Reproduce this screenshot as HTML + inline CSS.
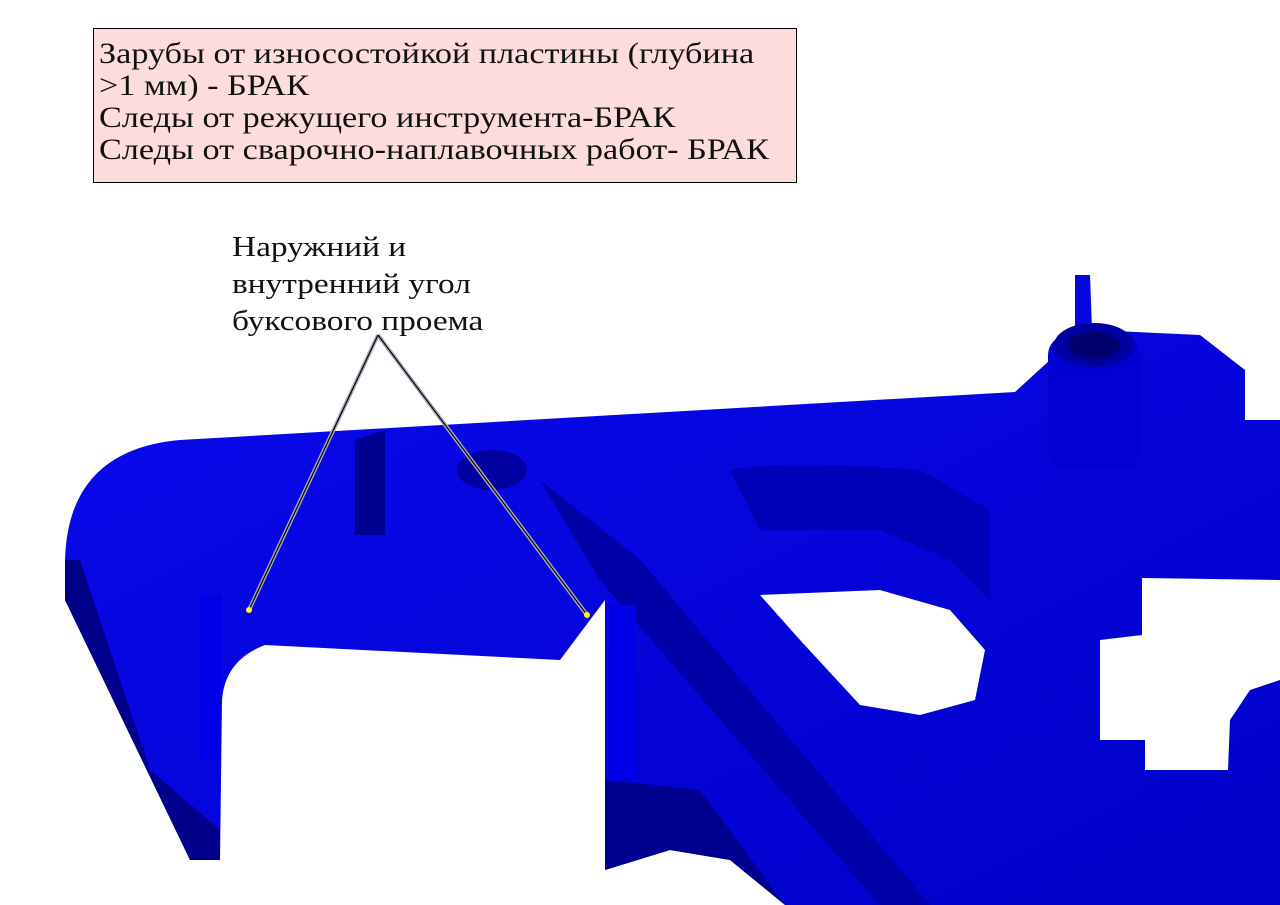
<!DOCTYPE html><html><head><meta charset="utf-8"><style>
body{margin:0;width:1280px;height:905px;background:#fff;overflow:hidden;position:relative;font-family:"Liberation Serif",serif}
.box{position:absolute;left:93px;top:28px;width:704px;height:155px;background:#fddcdc;border:1.5px solid #000;box-sizing:border-box}
.bt{position:absolute;left:99px;top:38px;font-size:30px;line-height:32px;color:#111;transform:scaleX(1.14);transform-origin:0 0;white-space:nowrap}
.lbl{position:absolute;left:232px;top:229px;font-size:29px;line-height:37px;color:#111;transform:scaleX(1.15);transform-origin:0 0;white-space:nowrap}
</style></head><body>
<svg width="1280" height="905" style="position:absolute;left:0;top:0">
<defs><linearGradient id="g" x1="0" y1="0" x2="1" y2="1"><stop offset="0" stop-color="#0a0af0"/><stop offset="1" stop-color="#0000c8"/></linearGradient></defs>
<path d="M65,560 Q68,450 180,440 L1015,392 L1050,360 L1075,330 L1075,275 L1090,275 L1092,330 L1200,335 L1245,370 L1245,420 L1280,420 L1280,905 L785,905 L730,860 L670,850 L605,870 L605,600 L560,660 L265,645 Q225,660 222,700 L220,860 L190,860 L65,600 Z" fill="url(#g)"/>
<path d="M65,560 L65,600 L190,860 L220,860 L220,830 L150,770 L80,560 Z" fill="#00008a"/>
<path d="M605,870 L605,780 L700,790 L785,905 L730,860 L670,850 Z" fill="#000090"/>
<path d="M540,480 L640,560 L930,905 L880,905 L600,580 Z" fill="#0000a8"/>
<path d="M760,595 L880,590 L950,610 L985,650 L975,700 L920,715 L860,705 L800,640 Z" fill="#fff"/>
<path d="M1142,578 L1280,580 L1280,680 L1250,690 L1230,720 L1228,770 L1145,770 L1145,740 L1100,740 L1100,640 L1142,635 Z" fill="#fff"/>
<rect x="1048" y="335" width="92" height="135" rx="20" fill="#0000d0"/>
<ellipse cx="1094" cy="345" rx="40" ry="22" fill="#0000a0"/>
<ellipse cx="1094" cy="345" rx="26" ry="14" fill="#000070"/>
<ellipse cx="492" cy="470" rx="35" ry="20" fill="#0000a0"/>
<path d="M355,440 L385,430 L385,535 L355,535 Z" fill="#000090"/>
<path d="M200,595 L222,595 L220,760 L200,760 Z" fill="#0000e8"/>
<path d="M610,605 L635,605 L635,780 L610,780 Z" fill="#0000e8"/>
<path d="M730,470 Q780,460 920,470 L990,510 L990,600 L950,560 L880,530 L760,530 Z" fill="#0000b8"/>
<line x1="378" y1="335" x2="249" y2="610" stroke="#aab" stroke-width="4"/>
<line x1="378" y1="335" x2="587" y2="615" stroke="#aab" stroke-width="4"/>
<line x1="378" y1="335" x2="249" y2="610" stroke="#000" stroke-width="1.2"/>
<line x1="378" y1="335" x2="587" y2="615" stroke="#000" stroke-width="1.2"/>
<circle cx="249" cy="610" r="3" fill="#ff0"/><circle cx="587" cy="615" r="3" fill="#ff0"/>
</svg>
<div class="box"></div>
<div class="bt">Зарубы от износостойкой пластины (глубина<br>&gt;1 мм) - БРАК<br>Следы от режущего инструмента-БРАК<br>Следы от сварочно-наплавочных работ- БРАК</div>
<div class="lbl">Наружний и<br>внутренний угол<br>буксового проема</div>
</body></html>
